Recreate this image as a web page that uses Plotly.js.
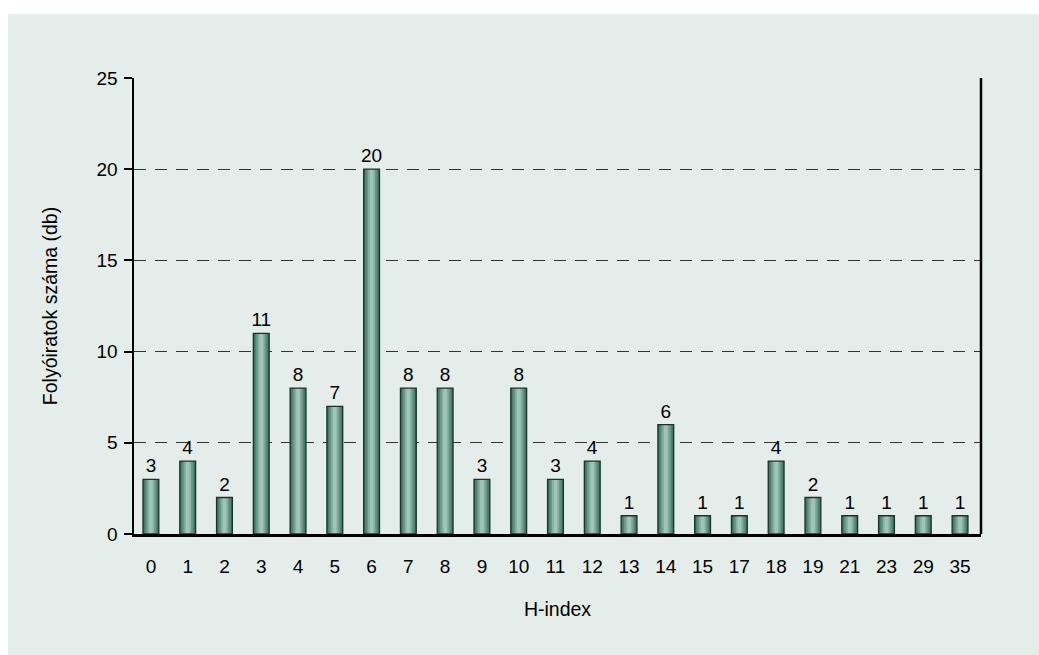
<!DOCTYPE html>
<html><head><meta charset="utf-8">
<script src="https://cdn.plot.ly/plotly-3.0.1.min.js"></script>
<style>html,body{margin:0;padding:0;background:#fff;}#c{position:absolute;left:8px;top:14px;width:1031px;height:641px;}</style>
</head><body><div id="c"></div>
<script>
const hIndex = ['0','1','2','3','4','5','6','7','8','9','10','11','12','13','14','15','17','18','19','21','23','29','35'];
const counts = [3,4,2,11,8,7,20,8,8,3,8,3,4,1,6,1,1,4,2,1,1,1,1];
const yTicks = [0,5,10,15,20,25];

const pos = hIndex.map((_, i) => i);
const layers = [
  {w:0.43, c:'#3d6e5f'},
  {w:0.36, c:'#4f8272'},
  {w:0.28, c:'#679887'},
  {w:0.19, c:'#83b0a1'},
  {w:0.10, c:'#a0c4b7'}
];
const traces = layers.map(l => ({
  type:'bar', x:pos, y:counts, width:l.w,
  marker:{color:l.c, line:{width:0}}, hoverinfo:'skip', showlegend:false
}));
traces.push({
  type:'bar', x:pos, y:counts, width:0.43,
  marker:{color:'rgba(0,0,0,0)', line:{color:'#1c332c', width:1.3}},
  text:counts.map(String), textposition:'outside', cliponaxis:false, constraintext:'none',
  textfont:{family:'Liberation Sans', size:19, color:'#000'},
  hoverinfo:'skip', showlegend:false
});

const layout = {
  paper_bgcolor:'#e4ede9', plot_bgcolor:'#e4ede9',
  width:1031, height:641,
  margin:{l:126, r:58, t:64, b:121},
  barmode:'overlay',
  font:{family:'Liberation Sans', size:19, color:'#000'},
  xaxis:{
    range:[-0.46, 22.57], tickvals:pos, ticktext:hIndex,
    showline:true, linecolor:'#000', linewidth:2.5, ticks:'', showgrid:false, zeroline:false,
    tickfont:{size:19}, ticklabelstandoff:14,
    title:{text:'H-index', font:{size:19.5}, standoff:26}
  },
  yaxis:{
    range:[0,25], tickvals:yTicks, ticks:'outside', ticklen:8, tickwidth:2, tickcolor:'#000',
    showline:true, linecolor:'#000', linewidth:2.5, zeroline:false,
    showgrid:true, gridcolor:'#333', gridwidth:1.2, griddash:'12px,9px',
    tickfont:{size:19}, ticklabelstandoff:2,
    title:{text:'Folyóiratok száma (db)', font:{size:19.5}, standoff:34}
  },
  shapes:[{type:'line', xref:'paper', yref:'y', x0:1, x1:1, y0:0, y1:25, line:{color:'#000', width:2.5}}]
};
Plotly.newPlot('c', traces, layout, {displayModeBar:false, staticPlot:true});
</script></body></html>
